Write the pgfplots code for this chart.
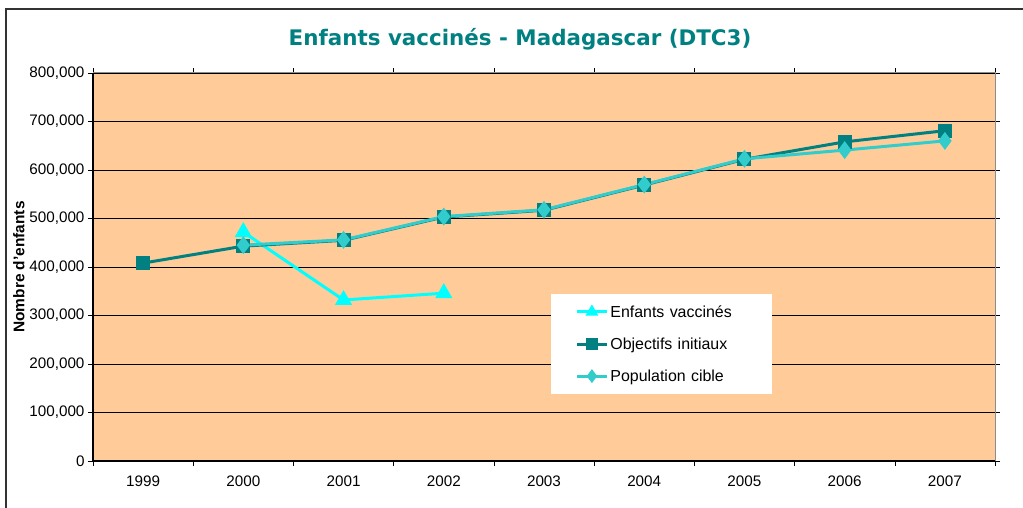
\documentclass[border=0pt]{standalone}
\usepackage{pgfplots}
\pgfplotsset{compat=1.18}
\usepackage{fontspec}
\setmainfont{Liberation Sans}
\newfontfamily\titlefont{DejaVu Sans}
\definecolor{peach}{RGB}{255,204,153}
\definecolor{vacc}{RGB}{0,255,255}
\definecolor{objteal}{RGB}{0,128,128}
\definecolor{popcyan}{RGB}{51,204,204}

\begin{document}
\begin{tikzpicture}[x=1bp,y=1bp]
\path[use as bounding box] (0,0) rectangle (1023,508);
\draw[line width=2bp, black!80] (6,-5) -- (6,499) -- (1030,499);
\node[font=\titlefont\bfseries\fontsize{21.5}{24}\selectfont, text=objteal] at (520,469) {Enfants vaccinés - Madagascar (DTC3)};
\begin{axis}[
	at={(93bp,47bp)}, anchor=south west,
	width=902bp, height=388bp, scale only axis,
	xmin=-0.5, xmax=8.5,
	ymin=0, ymax=800000,
	xtick={0,...,8},
	xticklabels={1999,2000,2001,2002,2003,2004,2005,2006,2007},
	minor xtick={-0.5,0.5,...,8.5},
	major x tick style={draw=none},
	minor x tick style={black, thin},
	ytick={0,100000,...,800000},
	y tick style={black, thin},
	tick align=outside,
	major tick length=5bp, minor tick length=5bp,
	scaled y ticks=false,
	yticklabel style={/pgf/number format/.cd, fixed, 1000 sep={,}},
	/pgf/number format/assume math mode=true,
	ticklabel style={font=\fontsize{15.3}{17}\selectfont},
	xticklabel style={yshift=-6bp},
	ymajorgrids=true,
	grid style={black, line width=0.9bp},
	axis background/.style={fill=peach},
	axis line style={black!45, line width=1bp},
	ylabel={Nombre d'enfants},
	ylabel style={font=\bfseries\fontsize{15.5}{17}\selectfont, yshift=-2bp},
	legend style={at={(rel axis cs:0.508,0.430)}, anchor=north west, draw=none, fill=white,
		font=\fontsize{16}{18}\selectfont, inner xsep=24bp, inner ysep=9bp, row sep=15bp,
		text width=136bp},
	legend cell align=left,
	legend image code/.code={\draw[mark repeat=2,mark phase=2,#1, mark size=4.5bp] plot coordinates {(0bp,0bp) (15bp,0bp) (30bp,0bp)};},
	clip=false,
]
\addplot[vacc, line width=3bp, mark=triangle*, mark size=7bp, mark options={solid}]
	coordinates {(1,472000) (2,332000) (3,346000)};
\addlegendentry{Enfants vaccinés}
\addplot[objteal, line width=3bp, mark=square*, mark size=5.5bp]
	coordinates {(0,408000) (1,443000) (2,455000) (3,503000) (4,517000) (5,569000) (6,622000) (7,658000) (8,681000)};
\addlegendentry{Objectifs initiaux}
\addplot[popcyan, line width=3bp, mark=diamond*, mark size=6.5bp]
	coordinates {(1,445000) (2,456000) (3,504000) (4,518000) (5,570000) (6,623000) (7,641000) (8,660000)};
\addlegendentry{Population cible}
\draw[black, line width=1.2bp] (rel axis cs:0,1) -- (rel axis cs:0,0) -- (rel axis cs:1,0);
\end{axis}
\end{tikzpicture}
\end{document}
